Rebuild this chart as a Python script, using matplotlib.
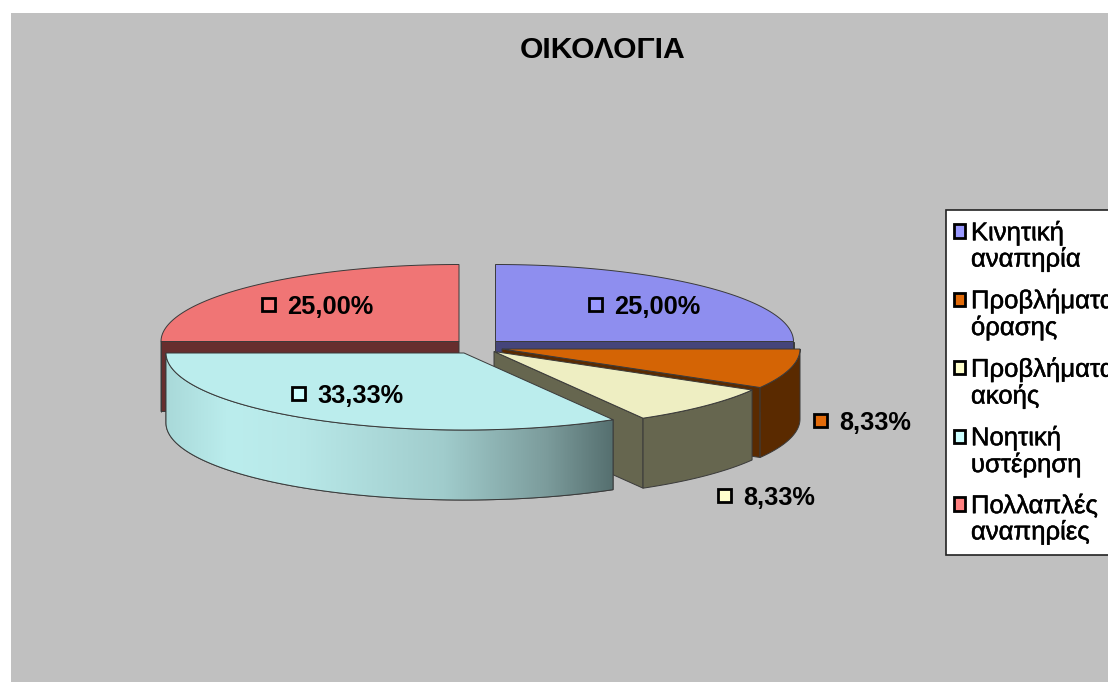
import numpy as np
import matplotlib
matplotlib.use("Agg")
import matplotlib.pyplot as plt
import matplotlib.patheffects as pe
from matplotlib.patches import Polygon, Rectangle
from matplotlib.colors import LinearSegmentedColormap
from matplotlib.legend_handler import HandlerPatch

# ---- data ----
title = "ΟΙΚΟΛΟΓΙΑ"
categories = ["Κινητική\nαναπηρία", "Προβλήματα\nόρασης", "Προβλήματα\nακοής",
              "Νοητική\nυστέρηση", "Πολλαπλές\nαναπηρίες"]
values = [25.00, 8.33, 8.33, 33.33, 25.00]

# ---- styles ----
legend_colors = ["#9999FF", "#E26B0A", "#FFFFCC", "#CCFFFF", "#FF8080"]
top_colors = ["#8E8EEF", "#D46405", "#EEEEC2", "#BBEDED", "#F07575"]
side_colors = ["#45457A", "#5A2A00", "#66664F", "#BBEDED", "#662E2E"]
BG = "#C0C0C0"
EDGE = "#3A3A3A"

# ---- layout (pixels) ----
RX, RY, DEPTH = 298, 77, 70
CENTER = (478, 347)
explode = [(17.5, -5.5), (24, 2), (16, 4.5), (-14, 6), (-19, -5.5)]
label_marker = [(99.5, -37.5), (318, 71), (230, 143.5), (-166, 40), (-191, -37.5)]
FONT = ["Liberation Sans", "DejaVu Sans"]
plt.rcParams["font.family"] = FONT

fig = plt.figure(figsize=(11.08, 6.82), dpi=100, facecolor="white")
ax = fig.add_axes([0, 0, 1, 1])
ax.set_xlim(0, 1108)
ax.set_ylim(682, 0)
ax.axis("off")
ax.add_patch(Rectangle((11, 13), 1108, 682, fc=BG, ec="none", zorder=0))


def pt(apex, deg):
    a = np.radians(deg)
    return apex[0] + RX * np.cos(a), apex[1] - RY * np.sin(a)


def arc(apex, a0, a1):
    t = np.linspace(a0, a1, 80)
    return np.column_stack([apex[0] + RX * np.cos(np.radians(t)),
                            apex[1] - RY * np.sin(np.radians(t))])


total = sum(values)
fracs = np.array(values) / total
starts = 90 - 360 * np.concatenate([[0], np.cumsum(fracs)[:-1]])
ends = starts - 360 * fracs
apexes = [(CENTER[0] + dx, CENTER[1] + dy) for dx, dy in explode]

wall_cmap = LinearSegmentedColormap.from_list(
    "wall", [(0, "#A9D9D9"), (0.14, "#BBEDED"), (0.3, "#B8E8E8"),
             (0.62, "#A0CCCC"), (0.85, "#7C9C9C"), (1, "#556F6F")])

LW = 0.7
z = 1
for i in [4, 0, 1, 2, 3]:
    apex, a0, a1 = apexes[i], starts[i], ends[i]
    # radial cut faces that face the viewer
    for ang, normal in ((a0, a0 + 90), (a1, a1 - 90)):
        if np.sin(np.radians(normal)) < -1e-6:
            p = pt(apex, ang)
            ax.add_patch(Polygon([apex, p, (p[0], p[1] + DEPTH),
                                  (apex[0], apex[1] + DEPTH)], closed=True,
                                 fc=side_colors[i], ec=EDGE, lw=LW, zorder=z))
    # outer wall: the part of the arc below the horizontal
    lo, hi = max(a1, -180), min(a0, 0)
    if hi > lo:
        top = arc(apex, hi, lo)
        bot = top[::-1] + [0, DEPTH]
        wall = Polygon(np.vstack([top, bot]), closed=True, fc=side_colors[i],
                       ec=EDGE, lw=LW, zorder=z)
        ax.add_patch(wall)
        if i == 3:
            xmin, xmax = top[:, 0].min(), top[:, 0].max()
            ymin, ymax = top[:, 1].min(), bot[:, 1].max()
            im = ax.imshow(np.linspace(0, 1, 256)[None, :], cmap=wall_cmap, aspect="auto",
                           extent=(xmin, xmax, ymax, ymin), zorder=z + 0.1)
            im.set_clip_path(wall)
            ax.add_patch(Polygon(np.vstack([top, bot]), closed=True, fc="none",
                                 ec=EDGE, lw=LW, zorder=z + 0.2))
    # top face
    ax.add_patch(Polygon(np.vstack([[apex], arc(apex, a0, a1)]), closed=True,
                         fc=top_colors[i], ec=EDGE, lw=LW, zorder=z + 0.3))
    z += 1

ax.set_xlim(0, 1108)
ax.set_ylim(682, 0)

# data labels
for i, (apex, off) in enumerate(zip(apexes, label_marker)):
    mx, my = apex[0] + off[0], apex[1] + off[1]
    ax.add_patch(Rectangle((mx - 6.5, my - 6.5), 13, 13, fc=legend_colors[i],
                           ec="black", lw=2, zorder=20))
    ax.text(mx + 19, my + 3, f"{values[i]:.2f}%".replace(".", ","), fontsize=18.3,
            fontweight="bold", color="black", va="center", ha="left", zorder=21)

ax.text(602.5, 50, title, fontsize=21.7, fontweight="bold", ha="center", va="center",
        color="black", zorder=21)


# legend: the swatch sits on the first line of each two-line entry
class FirstLineSwatch(HandlerPatch):
    def create_artists(self, legend, orig_handle, xdescent, ydescent, width, height,
                       fontsize, trans):
        r = Rectangle((-xdescent - 1.4, -ydescent + 11), width, height,
                      fc=orig_handle.get_facecolor(), ec="black", lw=2, transform=trans)
        return [r]


handles = [Rectangle((0, 0), 1, 1, fc=c) for c in legend_colors]
leg = ax.legend(handles, categories, loc="upper left",
                bbox_to_anchor=(946 / 1108, 1 - 210 / 682), borderaxespad=0,
                prop={"family": FONT, "size": 18.5}, frameon=True, fancybox=False,
                facecolor="white", edgecolor="#222222", framealpha=1,
                handlelength=0.42, handleheight=0.42, handletextpad=0.15,
                labelspacing=0.65, borderpad=0.4,
                handler_map={Rectangle: FirstLineSwatch()})
for t in leg.get_texts():
    t.set_linespacing(1.09)
    t.set_path_effects([pe.withStroke(linewidth=0.35, foreground="black")])
leg.get_frame().set_linewidth(1.2)
leg.set_zorder(30)

fig.savefig("out.png", dpi=100)
